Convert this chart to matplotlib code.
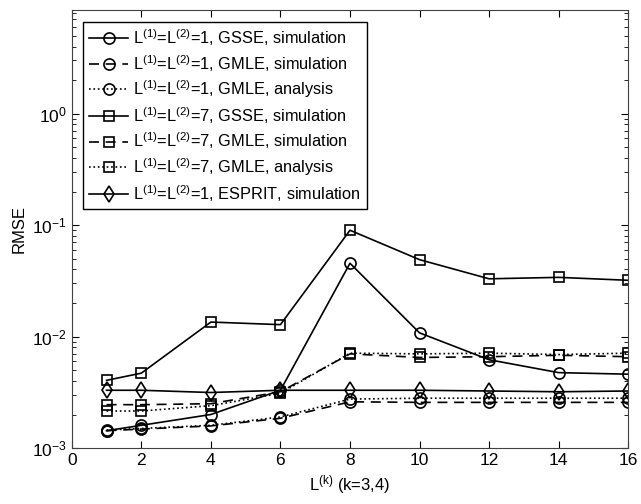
import matplotlib
matplotlib.use('Agg')
import matplotlib.pyplot as plt
from matplotlib.ticker import LogLocator, NullFormatter

plt.rcParams['font.family'] = ['Liberation Sans', 'DejaVu Sans']
plt.rcParams['mathtext.fontset'] = 'custom'
plt.rcParams['mathtext.rm'] = 'Liberation Sans'
plt.rcParams['mathtext.it'] = 'Liberation Sans'
plt.rcParams['mathtext.default'] = 'regular'

x = [1, 2, 4, 6, 8, 10, 12, 14, 16]

gsse_l1 = [1.43e-3, 1.6e-3, 2.0e-3, 3.3e-3, 0.0455, 0.0108, 6.2e-3, 4.75e-3, 4.6e-3]
gmle_sim_l1 = [1.43e-3, 1.48e-3, 1.58e-3, 1.85e-3, 2.6e-3, 2.57e-3, 2.57e-3, 2.57e-3, 2.57e-3]
gmle_ana_l1 = [1.45e-3, 1.5e-3, 1.6e-3, 1.9e-3, 2.75e-3, 2.8e-3, 2.8e-3, 2.8e-3, 2.8e-3]
gsse_l7 = [4.05e-3, 4.7e-3, 0.0135, 0.0128, 0.09, 0.049, 0.033, 0.034, 0.032]
gmle_sim_l7 = [2.45e-3, 2.45e-3, 2.5e-3, 3.2e-3, 7.0e-3, 6.5e-3, 6.6e-3, 6.8e-3, 6.6e-3]
gmle_ana_l7 = [2.15e-3, 2.15e-3, 2.4e-3, 3.1e-3, 7.1e-3, 7.0e-3, 7.1e-3, 6.9e-3, 7.1e-3]
esprit_l1 = [3.3e-3, 3.3e-3, 3.15e-3, 3.3e-3, 3.3e-3, 3.3e-3, 3.25e-3, 3.2e-3, 3.25e-3]

labels = [
    r'L$^{(1)}$=L$^{(2)}$=1, GSSE, simulation',
    r'L$^{(1)}$=L$^{(2)}$=1, GMLE, simulation',
    r'L$^{(1)}$=L$^{(2)}$=1, GMLE, analysis',
    r'L$^{(1)}$=L$^{(2)}$=7, GSSE, simulation',
    r'L$^{(1)}$=L$^{(2)}$=7, GMLE, simulation',
    r'L$^{(1)}$=L$^{(2)}$=7, GMLE, analysis',
    r'L$^{(1)}$=L$^{(2)}$=1, ESPRIT, simulation',
]

series = [gsse_l1, gmle_sim_l1, gmle_ana_l1, gsse_l7, gmle_sim_l7, gmle_ana_l7, esprit_l1]
styles = [('-', 'o'), ((0, (6, 4)), 'o'), (':', 'o'),
          ('-', 's'), ((0, (6, 4)), 's'), (':', 's'), ('-', 'd')]

fig = plt.figure(figsize=(6.41, 5.04), dpi=100)
ax = fig.add_axes([0.112, 0.111, 0.868, 0.869])

for y, (ls, mk), lab in zip(series, styles, labels):
    ax.plot(x, y, linestyle=ls, marker=mk, color='k', lw=1.2,
            markersize=8 if mk != 's' else 7, markerfacecolor='none',
            markeredgewidth=1.2, label=lab)

ax.set_yscale('log')
ax.set_xlim(0, 16)
ax.set_ylim(1e-3, 8.5)
ax.set_xticks(range(0, 17, 2))
ax.set_yticks([1e-3, 1e-2, 1e-1, 1e0])
ax.yaxis.set_minor_locator(LogLocator(base=10, subs=range(2, 10), numticks=20))
ax.yaxis.set_minor_formatter(NullFormatter())
ax.tick_params(which='both', direction='in', top=True, right=True, labelsize=12.5)
ax.tick_params(which='major', length=5)
ax.tick_params(which='minor', length=3)
for s in ax.spines.values():
    s.set_color('#404040')

ax.set_xlabel(r'L$^{(k)}$ (k=3,4)', fontsize=12)
ax.set_ylabel('RMSE', fontsize=12)

leg = ax.legend(loc='upper left', fontsize=11.8, fancybox=False, framealpha=1,
                edgecolor='k', handlelength=2.4, borderaxespad=0.7,
                labelspacing=0.3, handletextpad=0.3, borderpad=0.35)
leg.get_frame().set_linewidth(1.0)

fig.savefig('out.png', dpi=100)
